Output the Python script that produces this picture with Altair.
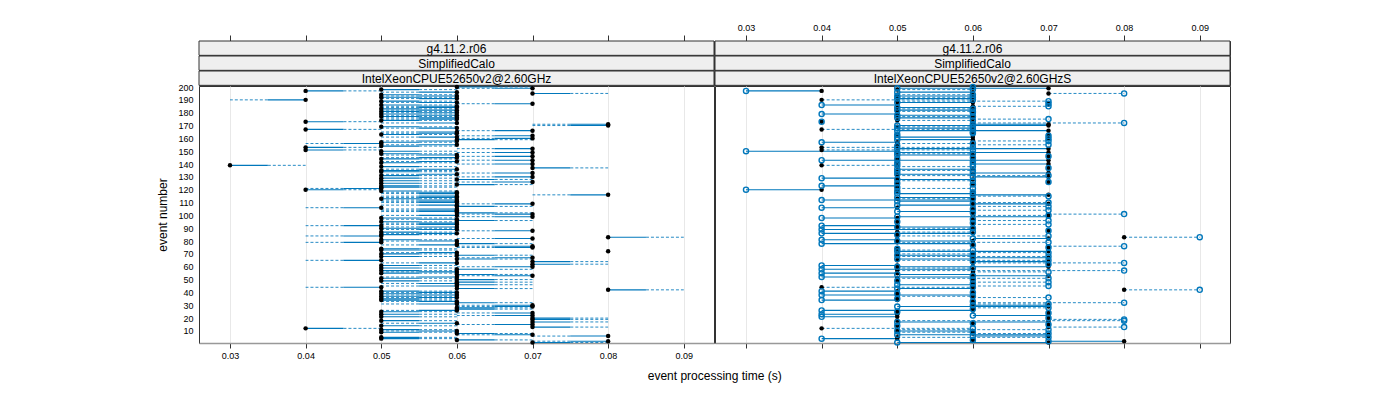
import altair as alt
import pandas as pd

events = list(range(1, 201))

# left panel: black points and the time each segment runs to
left_time = [
    0.07, 0.08, 0.06, 0.05, 0.05, 0.08, 0.07, 0.06, 0.05, 0.06,
    0.05, 0.04, 0.07, 0.05, 0.07, 0.06, 0.07, 0.05, 0.07, 0.07,
    0.05, 0.07, 0.05, 0.07, 0.05, 0.06, 0.06, 0.06, 0.07, 0.07,
    0.06, 0.06, 0.06, 0.05, 0.05, 0.06, 0.05, 0.06, 0.05, 0.06,
    0.05, 0.08, 0.06, 0.05, 0.06, 0.06, 0.06, 0.06, 0.05, 0.06,
    0.05, 0.06, 0.07, 0.06, 0.05, 0.06, 0.05, 0.06, 0.05, 0.07,
    0.05, 0.07, 0.06, 0.07, 0.05, 0.06, 0.07, 0.05, 0.06, 0.05,
    0.06, 0.08, 0.05, 0.05, 0.07, 0.07, 0.06, 0.06, 0.05, 0.06,
    0.05, 0.07, 0.08, 0.05, 0.05, 0.06, 0.05, 0.07, 0.06, 0.05,
    0.06, 0.05, 0.06, 0.06, 0.05, 0.06, 0.06, 0.05, 0.07, 0.06,
    0.07, 0.06, 0.06, 0.06, 0.06, 0.05, 0.06, 0.06, 0.07, 0.06,
    0.06, 0.06, 0.05, 0.06, 0.06, 0.08, 0.06, 0.06, 0.05, 0.04,
    0.05, 0.05, 0.05, 0.06, 0.05, 0.07, 0.05, 0.06, 0.05, 0.07,
    0.05, 0.06, 0.07, 0.05, 0.05, 0.06, 0.07, 0.05, 0.03, 0.07,
    0.05, 0.06, 0.07, 0.05, 0.06, 0.07, 0.06, 0.05, 0.07, 0.05,
    0.04, 0.07, 0.04, 0.05, 0.06, 0.05, 0.05, 0.06, 0.06, 0.07,
    0.06, 0.07, 0.05, 0.06, 0.06, 0.07, 0.04, 0.06, 0.05, 0.08,
    0.08, 0.06, 0.04, 0.05, 0.06, 0.06, 0.05, 0.06, 0.05, 0.06,
    0.05, 0.06, 0.05, 0.06, 0.06, 0.05, 0.07, 0.06, 0.05, 0.04,
    0.06, 0.05, 0.06, 0.05, 0.07, 0.06, 0.04, 0.05, 0.07, 0.06,
]
left_link = [
    0.08, 0.07, 0.07, 0.06, 0.06, 0.07, 0.06, 0.07, 0.06, 0.05,
    0.06, 0.05, 0.08, 0.06, 0.06, 0.05, 0.08, 0.06, 0.08, 0.08,
    0.06, 0.06, 0.06, 0.06, 0.06, 0.05, 0.07, 0.07, 0.06, 0.06,
    0.05, 0.07, 0.05, 0.06, 0.06, 0.05, 0.06, 0.05, 0.06, 0.05,
    0.06, 0.09, 0.07, 0.04, 0.05, 0.07, 0.05, 0.07, 0.06, 0.07,
    0.06, 0.05, 0.06, 0.07, 0.06, 0.05, 0.06, 0.07, 0.06, 0.06,
    0.06, 0.08, 0.05, 0.08, 0.04, 0.07, 0.06, 0.06, 0.07, 0.06,
    0.05, 0.08, 0.06, 0.06, 0.06, 0.06, 0.05, 0.07, 0.04, 0.05,
    0.06, 0.06, 0.09, 0.04, 0.06, 0.05, 0.06, 0.06, 0.05, 0.06,
    0.05, 0.04, 0.05, 0.05, 0.06, 0.07, 0.05, 0.06, 0.06, 0.05,
    0.06, 0.07, 0.05, 0.05, 0.05, 0.04, 0.07, 0.05, 0.06, 0.05,
    0.05, 0.05, 0.06, 0.05, 0.05, 0.07, 0.05, 0.05, 0.06, 0.05,
    0.04, 0.06, 0.06, 0.07, 0.06, 0.06, 0.06, 0.07, 0.06, 0.06,
    0.06, 0.05, 0.06, 0.06, 0.06, 0.05, 0.08, 0.06, 0.04, 0.06,
    0.06, 0.05, 0.06, 0.06, 0.05, 0.06, 0.05, 0.06, 0.06, 0.06,
    0.05, 0.06, 0.05, 0.06, 0.05, 0.04, 0.06, 0.05, 0.07, 0.06,
    0.05, 0.06, 0.06, 0.05, 0.05, 0.06, 0.05, 0.05, 0.06, 0.07,
    0.07, 0.05, 0.05, 0.06, 0.05, 0.05, 0.06, 0.05, 0.06, 0.05,
    0.06, 0.05, 0.06, 0.05, 0.05, 0.06, 0.06, 0.05, 0.06, 0.03,
    0.05, 0.06, 0.05, 0.06, 0.08, 0.05, 0.05, 0.06, 0.06, 0.07,
]

# right panel: open blue circles and black reference points
right_time = [
    0.05, 0.07, 0.06, 0.04, 0.07, 0.06, 0.05, 0.07, 0.06, 0.05,
    0.07, 0.06, 0.08, 0.05, 0.07, 0.06, 0.05, 0.08, 0.08, 0.07,
    0.04, 0.06, 0.04, 0.07, 0.05, 0.04, 0.06, 0.07, 0.05, 0.06,
    0.07, 0.08, 0.06, 0.04, 0.05, 0.07, 0.06, 0.04, 0.05, 0.06,
    0.04, 0.09, 0.05, 0.06, 0.07, 0.05, 0.06, 0.07, 0.05, 0.06,
    0.07, 0.04, 0.06, 0.05, 0.04, 0.07, 0.08, 0.04, 0.06, 0.05,
    0.04, 0.07, 0.08, 0.06, 0.07, 0.05, 0.06, 0.07, 0.05, 0.06,
    0.07, 0.05, 0.06, 0.05, 0.07, 0.08, 0.06, 0.04, 0.07, 0.05,
    0.04, 0.06, 0.09, 0.07, 0.05, 0.04, 0.06, 0.07, 0.04, 0.06,
    0.05, 0.04, 0.07, 0.06, 0.05, 0.07, 0.06, 0.04, 0.05, 0.07,
    0.08, 0.06, 0.05, 0.07, 0.06, 0.04, 0.07, 0.05, 0.06, 0.07,
    0.05, 0.04, 0.06, 0.05, 0.07, 0.06, 0.05, 0.06, 0.05, 0.03,
    0.06, 0.05, 0.04, 0.06, 0.05, 0.07, 0.06, 0.05, 0.04, 0.06,
    0.07, 0.05, 0.06, 0.05, 0.06, 0.05, 0.07, 0.06, 0.05, 0.06,
    0.05, 0.06, 0.04, 0.05, 0.06, 0.07, 0.05, 0.06, 0.05, 0.03,
    0.06, 0.05, 0.06, 0.05, 0.07, 0.06, 0.04, 0.07, 0.05, 0.07,
    0.05, 0.07, 0.05, 0.06, 0.06, 0.05, 0.06, 0.05, 0.06, 0.05,
    0.06, 0.08, 0.04, 0.06, 0.07, 0.05, 0.06, 0.05, 0.04, 0.06,
    0.06, 0.05, 0.06, 0.05, 0.07, 0.04, 0.07, 0.05, 0.07, 0.06,
    0.05, 0.06, 0.05, 0.06, 0.08, 0.05, 0.03, 0.06, 0.05, 0.06,
]
right_ref = [
    0.07, 0.08, 0.06, 0.05, 0.05, 0.07, 0.07, 0.06, 0.05, 0.06,
    0.05, 0.04, 0.07, 0.05, 0.07, 0.06, 0.07, 0.05, 0.07, 0.07,
    0.05, 0.07, 0.05, 0.07, 0.05, 0.06, 0.06, 0.06, 0.07, 0.07,
    0.06, 0.06, 0.06, 0.05, 0.05, 0.06, 0.05, 0.06, 0.05, 0.06,
    0.05, 0.08, 0.06, 0.04, 0.06, 0.06, 0.06, 0.06, 0.05, 0.06,
    0.05, 0.06, 0.07, 0.06, 0.05, 0.06, 0.05, 0.06, 0.05, 0.07,
    0.05, 0.07, 0.06, 0.07, 0.05, 0.06, 0.07, 0.05, 0.06, 0.05,
    0.06, 0.07, 0.05, 0.05, 0.07, 0.07, 0.06, 0.06, 0.05, 0.06,
    0.05, 0.07, 0.08, 0.05, 0.05, 0.06, 0.05, 0.07, 0.06, 0.05,
    0.06, 0.05, 0.06, 0.06, 0.05, 0.06, 0.06, 0.05, 0.07, 0.06,
    0.07, 0.06, 0.06, 0.06, 0.06, 0.05, 0.06, 0.06, 0.07, 0.06,
    0.06, 0.06, 0.05, 0.06, 0.06, 0.07, 0.06, 0.06, 0.05, 0.04,
    0.05, 0.05, 0.05, 0.06, 0.05, 0.07, 0.05, 0.06, 0.05, 0.07,
    0.05, 0.06, 0.07, 0.05, 0.05, 0.06, 0.07, 0.05, 0.04, 0.07,
    0.05, 0.06, 0.07, 0.05, 0.06, 0.07, 0.06, 0.05, 0.07, 0.05,
    0.04, 0.07, 0.04, 0.05, 0.06, 0.05, 0.05, 0.06, 0.06, 0.07,
    0.06, 0.07, 0.05, 0.06, 0.06, 0.07, 0.04, 0.06, 0.05, 0.07,
    0.07, 0.06, 0.04, 0.05, 0.06, 0.06, 0.05, 0.06, 0.05, 0.06,
    0.05, 0.06, 0.05, 0.06, 0.06, 0.05, 0.07, 0.06, 0.05, 0.04,
    0.06, 0.05, 0.06, 0.05, 0.07, 0.06, 0.04, 0.05, 0.07, 0.06,
]

x_ticks = [0.03, 0.04, 0.05, 0.06, 0.07, 0.08, 0.09]
y_ticks = [10, 20, 30, 40, 50, 60, 70, 80, 90, 100,
           110, 120, 130, 140, 150, 160, 170, 180, 190, 200]
strip_rows = ["g4.11.2.r06", "SimplifiedCalo"]
panel_names = ["IntelXeonCPUE52650v2@2.60GHz", "IntelXeonCPUE52650v2@2.60GHzS"]

BLUE = "#0077bb"
FONT = "Liberation Sans"
W = 515
H = 257
SH = 14.33
TICK_FS = 9

xscale = alt.Scale(domain=[0.0259, 0.094], nice=False, zero=False)
yscale = alt.Scale(domain=[0.6, 200.8], nice=False, zero=False)


def strip(label, axis_labels=None):
    base = alt.Chart(pd.DataFrame({"label": [label]}))
    rect = base.mark_rect(fill="#efefef", stroke="#333333", strokeWidth=1).encode(
        x=alt.value(0), x2=alt.value(W), y=alt.value(0), y2=alt.value(SH))
    txt = base.mark_text(fontSize=12, font=FONT, color="#000000").encode(
        text="label:N", x=alt.value(W / 2), y=alt.value(SH / 2 + 0.5))
    layers = [rect, txt]
    if axis_labels is not None:
        ax = alt.Chart(pd.DataFrame({"t": x_ticks})).mark_point(opacity=0).encode(
            x=alt.X("t:Q", scale=xscale,
                    axis=alt.Axis(orient="top", values=x_ticks, format=".2f", title=None,
                                  labelFontSize=TICK_FS, labelFont=FONT, tickSize=6,
                                  tickColor="#333333", labelOpacity=1 if axis_labels else 0,
                                  domain=False, grid=False, labelPadding=3)))
        layers = [ax, rect, txt]
    return alt.layer(*layers).properties(width=W, height=SH)


def xaxis(show_labels):
    return alt.Axis(values=x_ticks, format=".2f", title=None, labelFontSize=TICK_FS,
                    labelFont=FONT, tickSize=5, tickColor="#333333",
                    labelOpacity=1 if show_labels else 0,
                    grid=True, gridColor="#e8e8e8", domainColor="#999999", domainWidth=1.5,
                    labelPadding=3)


yaxis_left = alt.Axis(values=y_ticks, title="event number", titleFontSize=12,
                      titleFont=FONT, titleFontWeight="normal", titleColor="#000000",
                      labelFontSize=TICK_FS, labelFont=FONT, tickSize=0, labelPadding=6,
                      labelOverlap=False, domain=False, grid=False, titlePadding=8)
yl = alt.Y("event:Q", scale=yscale, axis=yaxis_left)
xl_axis = xaxis(True)

left_df = pd.DataFrame({"event": events, "time": left_time, "link": left_link})
left_df["mid"] = (left_df["time"] + left_df["link"]) / 2
lb = alt.Chart(left_df)
l_solid = lb.mark_rule(color=BLUE, strokeWidth=1.1).encode(
    x=alt.X("time:Q", scale=xscale, axis=xl_axis), x2="mid:Q", y=yl)
l_dash = lb.mark_rule(color=BLUE, strokeWidth=1, strokeDash=[3, 2], opacity=0.85).encode(
    x=alt.X("mid:Q", scale=xscale, axis=xl_axis), x2="link:Q", y=yl)
l_pts = lb.mark_circle(color="#000000", size=20, opacity=1).encode(
    x=alt.X("time:Q", scale=xscale, axis=xl_axis), y=yl)
left_plot = alt.layer(l_solid, l_dash, l_pts).properties(width=W, height=H)

xr_axis = xaxis(False)
yr = alt.Y("event:Q", scale=yscale, axis=None)
right_df = pd.DataFrame({"event": events, "time": right_time, "ref": right_ref})
rb = alt.Chart(right_df)
r_solid = rb.transform_filter("datum.time < datum.ref").mark_rule(color=BLUE, strokeWidth=1.1).encode(
    x=alt.X("time:Q", scale=xscale, axis=xr_axis), x2="ref:Q", y=yr)
r_dash = rb.transform_filter("datum.time > datum.ref").mark_rule(
    color=BLUE, strokeWidth=1, strokeDash=[3, 2], opacity=0.85).encode(
    x=alt.X("ref:Q", scale=xscale, axis=xr_axis), x2="time:Q", y=yr)
r_ref = rb.mark_circle(color="#000000", size=20, opacity=1).encode(
    x=alt.X("ref:Q", scale=xscale, axis=xr_axis), y=yr)
r_pts = rb.mark_point(color=BLUE, size=26, strokeWidth=1.4, filled=False, opacity=1).encode(
    x=alt.X("time:Q", scale=xscale, axis=xr_axis), y=yr)
right_plot = alt.layer(r_solid, r_dash, r_ref, r_pts).properties(width=W, height=H)

left_col = alt.vconcat(strip(strip_rows[0], False), strip(strip_rows[1]), strip(panel_names[0]),
                       left_plot, spacing=0, bounds="flush")
right_col = alt.vconcat(strip(strip_rows[0], True), strip(strip_rows[1]), strip(panel_names[1]),
                        right_plot, spacing=0, bounds="flush")

chart = alt.hconcat(left_col, right_col, spacing=-2).properties(
    title=alt.TitleParams("event processing time (s)", orient="bottom", anchor="middle",
                          fontSize=12, font=FONT, fontWeight="normal", color="#000000", dx=21,
                          offset=10),
    padding={"left": 148, "top": 14, "right": 5, "bottom": 5},
).configure_view(stroke="#333333", strokeWidth=1).configure_axis(
    labelColor="#000000", labelOverlap=False)

chart.save("out.html", embed_options={"renderer": "svg", "actions": False})
